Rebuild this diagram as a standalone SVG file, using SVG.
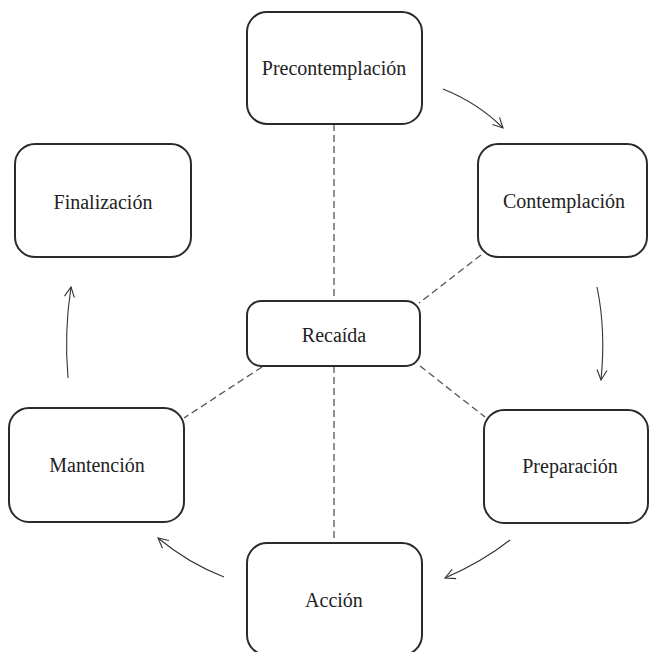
<svg xmlns="http://www.w3.org/2000/svg" width="650" height="652" viewBox="0 0 650 652">
<defs>
<style>
.box{fill:#fff;stroke:#2b2b2b;stroke-width:2}
.lbl{font-family:'Liberation Serif','DejaVu Serif',serif;font-size:20px;fill:#222;text-anchor:middle}
.dash{stroke:#555;stroke-width:1.3;stroke-dasharray:7 4;fill:none}
.arr{stroke:#333;stroke-width:1.1;fill:none;marker-end:url(#ah)}
</style>
<marker id="ah" viewBox="0 0 12 12" refX="11" refY="6" markerWidth="12" markerHeight="12" markerUnits="userSpaceOnUse" orient="auto">
<path d="M1,1 L11,6 L1,11" fill="none" stroke="#333" stroke-width="1.1"/>
</marker>
</defs>
<rect width="650" height="652" fill="#fff"/>
<g id="connectors">
<line class="dash" x1="334" y1="124" x2="334" y2="301"/>
<line class="dash" x1="334" y1="366" x2="334" y2="543"/>
<line class="dash" x1="481" y1="255" x2="419" y2="303"/>
<line class="dash" x1="420" y1="366" x2="485" y2="417"/>
<line class="dash" x1="262" y1="367" x2="184" y2="418"/>
<path class="arr" d="M443,89 Q478,103 503,128"/>
<path class="arr" d="M597,287 Q606,330 601,380"/>
<path class="arr" d="M510,540 Q482,562 445,578"/>
<path class="arr" d="M224,577 Q188,563 158,538"/>
<path class="arr" d="M68,378 Q64,332 71,287"/>
</g>
<g id="precontemplacion">
<rect class="box" x="247" y="12" width="175" height="112" rx="20"/>
<text class="lbl" x="334" y="75">Precontemplación</text>
</g>
<g id="contemplacion">
<rect class="box" x="478" y="144" width="169" height="113" rx="20"/>
<text class="lbl" x="564" y="208">Contemplación</text>
</g>
<g id="finalizacion">
<rect class="box" x="15" y="144" width="176" height="113" rx="20"/>
<text class="lbl" x="103" y="209">Finalización</text>
</g>
<g id="recaida">
<rect class="box" x="247" y="301" width="173" height="65" rx="14"/>
<text class="lbl" x="334" y="342">Recaída</text>
</g>
<g id="mantencion">
<rect class="box" x="9" y="408" width="175" height="114" rx="20"/>
<text class="lbl" x="97" y="472">Mantención</text>
</g>
<g id="preparacion">
<rect class="box" x="484" y="410" width="164" height="113" rx="20"/>
<text class="lbl" x="570" y="473">Preparación</text>
</g>
<g id="accion">
<rect class="box" x="247" y="543" width="175" height="112" rx="20"/>
<text class="lbl" x="334" y="607">Acción</text>
</g>
</svg>
